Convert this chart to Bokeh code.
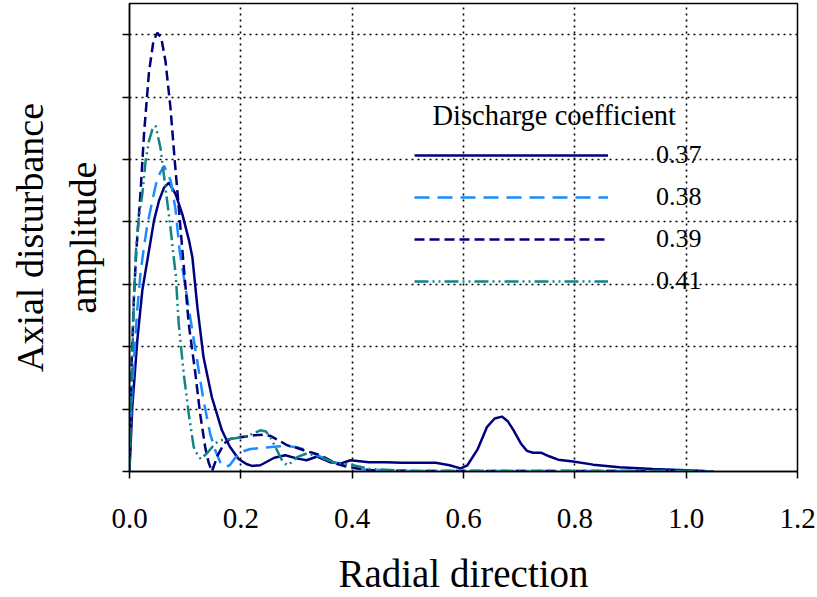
from bokeh.plotting import figure
from bokeh.models import Range1d, Legend, LegendItem, FixedTicker, Label
from bokeh.embed import file_html
from bokeh.resources import INLINE

# ---- data ----
x_037 = [0, 0.005, 0.014, 0.023, 0.038, 0.044, 0.053, 0.062, 0.071, 0.083, 0.095,
         0.107, 0.113, 0.122, 0.133, 0.148, 0.166, 0.18, 0.196, 0.21, 0.22, 0.235,
         0.26, 0.28, 0.30, 0.318, 0.337, 0.36, 0.38, 0.397, 0.43, 0.46, 0.49, 0.52,
         0.55, 0.575, 0.595, 0.607, 0.625, 0.642, 0.656, 0.669, 0.68, 0.69, 0.703,
         0.714, 0.725, 0.74, 0.755, 0.77, 0.797, 0.833, 0.88, 0.94, 1.0, 1.05]
y_037 = [0, 1.03, 2.1, 2.9, 3.7, 4.02, 4.34, 4.55, 4.63, 4.44, 4.12,
         3.7, 3.43, 2.63, 1.83, 1.19, 0.66, 0.4, 0.2, 0.12, 0.09, 0.1,
         0.22, 0.26, 0.21, 0.18, 0.24, 0.15, 0.13, 0.18, 0.15, 0.15, 0.14, 0.14,
         0.14, 0.1, 0.05, 0.1, 0.35, 0.71, 0.85, 0.88, 0.8, 0.66, 0.45,
         0.33, 0.3, 0.3, 0.24, 0.19, 0.16, 0.11, 0.07, 0.04, 0.02, 0.0]

x_038 = [0, 0.002, 0.008, 0.014, 0.02, 0.026, 0.032, 0.041, 0.05, 0.062, 0.074,
         0.083, 0.09, 0.1, 0.11, 0.122, 0.133, 0.145, 0.154, 0.163, 0.172, 0.18,
         0.19, 0.2, 0.217, 0.24, 0.265, 0.283, 0.3, 0.319, 0.343, 0.366, 0.39,
         0.42, 0.5, 0.6, 0.7, 0.8, 0.9, 1.0, 1.05]
y_038 = [0, 0.77, 1.8, 2.6, 3.2, 3.6, 3.95, 4.34, 4.7, 4.9, 4.66,
         4.18, 3.54, 2.98, 2.42, 1.75, 1.14, 0.6, 0.34, 0.15, 0.07, 0.1,
         0.22, 0.31, 0.36, 0.38, 0.4, 0.41, 0.39, 0.34, 0.24, 0.15, 0.07,
         0.03, 0.01, 0.01, 0.01, 0.01, 0.01, 0.01, 0.0]

x_039 = [0, 0.004, 0.008, 0.012, 0.016, 0.02, 0.026, 0.035, 0.043, 0.05, 0.057,
         0.0646, 0.0736, 0.0813, 0.0885, 0.095, 0.1065, 0.1185, 0.124, 0.127,
         0.136, 0.142, 0.148, 0.158, 0.17, 0.181, 0.2, 0.223, 0.24, 0.253, 0.268,
         0.283, 0.3, 0.313, 0.343, 0.373, 0.397, 0.43, 0.5, 0.6, 0.7, 0.8, 0.9,
         1.0, 1.05]
y_039 = [0, 1.8, 2.8, 3.5, 4.0, 4.5, 5.4, 6.4, 6.9, 7.03, 6.95,
         6.58, 5.83, 4.98, 4.23, 3.54, 2.36, 1.56, 1.14, 0.92,
         0.39, 0.15, 0.0, 0.25, 0.45, 0.52, 0.55, 0.58, 0.59, 0.57, 0.5,
         0.42, 0.38, 0.34, 0.26, 0.12, 0.07, 0.02, 0.01, 0.01, 0.01, 0.01, 0.01,
         0.01, 0.0]

x_041 = [0, 0.004, 0.008, 0.012, 0.017, 0.023, 0.029, 0.035, 0.041, 0.047, 0.0556,
         0.0646, 0.0736, 0.078, 0.083, 0.0885, 0.0975, 0.1035, 0.1065, 0.1154,
         0.1215, 0.128, 0.14, 0.154, 0.163, 0.18, 0.205, 0.22, 0.235, 0.245, 0.253,
         0.265, 0.274, 0.283, 0.29, 0.301, 0.319, 0.343, 0.366, 0.402, 0.432, 0.5,
         0.6, 0.7, 0.8, 0.9, 1.0, 1.05]
y_041 = [0, 1.5, 2.8, 3.6, 4.1, 4.44, 4.98, 5.3, 5.48, 5.54, 5.19,
         4.55, 3.91, 3.54, 3.16, 2.36, 1.56, 1.14, 0.92, 0.39,
         0.28, 0.2, 0.3, 0.45, 0.5, 0.52, 0.55, 0.6, 0.66, 0.64, 0.55,
         0.34, 0.18, 0.1, 0.14, 0.23, 0.29, 0.23, 0.15, 0.1, 0.04, 0.01,
         0.01, 0.01, 0.01, 0.01, 0.01, 0.0]

labels = ["0.37", "0.38", "0.39", "0.41"]
legend_title = "Discharge coefficient"
x_ticks = [0.0, 0.2, 0.4, 0.6, 0.8, 1.0, 1.2]
x_tick_labels = ["0.0", "0.2", "0.4", "0.6", "0.8", "1.0", "1.2"]
y_ticks = [0, 1, 2, 3, 4, 5, 6, 7]

SERIF = "Liberation Serif"
NAVY = "#00007f"
LBLUE = "#1a8cff"
TEAL = "#128484"

p = figure(width=817, height=597, output_backend="svg", toolbar_location=None,
           x_range=Range1d(0, 1.2), y_range=Range1d(0, 7.5),
           min_border_left=129, min_border_right=20, min_border_top=3,
           min_border_bottom=126)

p.background_fill_color = "white"
p.border_fill_color = "white"
p.outline_line_color = "black"
p.outline_line_width = 1.5

# axes
p.xaxis.ticker = FixedTicker(ticks=x_ticks)
p.xaxis.major_label_overrides = {t: s for t, s in zip(x_ticks, x_tick_labels)}
p.yaxis.ticker = FixedTicker(ticks=y_ticks)
p.yaxis.major_label_overrides = {t: "" for t in y_ticks}
for ax in (p.xaxis, p.yaxis):
    ax.axis_line_color = "black"
    ax.axis_line_width = 1.5
    ax.major_tick_line_color = "black"
    ax.major_tick_line_width = 1.5
    ax.major_tick_in = 0
    ax.major_tick_out = 7
    ax.minor_tick_line_color = None
    ax.axis_label_text_font = SERIF
    ax.axis_label_text_font_style = "normal"
    ax.axis_label_text_color = "black"
    ax.major_label_text_font = SERIF
    ax.major_label_text_color = "black"

p.xaxis.major_label_text_font_size = "29px"
p.xaxis.major_label_text_line_height = 1.0
p.xaxis.major_label_standoff = 30
p.xaxis.axis_label = "Radial direction"
p.xaxis.axis_label_text_font_size = "39px"
p.xaxis.axis_label_text_line_height = 1.0
p.xaxis.axis_label_standoff = 21

p.yaxis.major_label_text_font_size = "1px"
p.yaxis.major_label_standoff = 0
p.yaxis.axis_label = "Axial disturbance\namplitude"
p.yaxis.axis_label_text_font_size = "38px"
p.yaxis.axis_label_text_line_height = 1.25
p.yaxis.axis_label_standoff = 19

# grid
for g in (p.xgrid, p.ygrid):
    g.grid_line_color = "black"
    g.grid_line_width = 1.6
    g.grid_line_dash = "2 4"
    g.grid_line_alpha = 1.0
p.xgrid.ticker = FixedTicker(ticks=x_ticks)
p.ygrid.ticker = FixedTicker(ticks=y_ticks)

# curves
r1 = p.line(x_037, y_037, line_color=NAVY, line_width=2.5)
r2 = p.line(x_038, y_038, line_color=LBLUE, line_width=2.5, line_dash="15 8")
r3 = p.line(x_039, y_039, line_color=NAVY, line_width=2.5, line_dash="10 5")
r4 = p.line(x_041, y_041, line_color=TEAL, line_width=2.5, line_dash="14 4 2 4 2 4")

legend = Legend(items=[LegendItem(label=l, renderers=[r]) for l, r in
                       zip(labels, [r1, r2, r3, r4])],
                location=(285, 175),
                label_text_font=SERIF, label_text_font_size="26px",
                label_text_color="black",
                label_standoff=48, glyph_width=194, glyph_height=30,
                label_height=30, spacing=12, padding=0, margin=0,
                background_fill_alpha=0, border_line_alpha=0)
p.add_layout(legend, "center")

# legend heading, centred above the legend rows
p.add_layout(Label(x=0.763, y=5.7, text=legend_title, text_align="center",
                   text_baseline="middle", text_font=SERIF,
                   text_font_size="28.5px", text_color="black"))

open("out.html", "w").write(file_html(p, INLINE))
